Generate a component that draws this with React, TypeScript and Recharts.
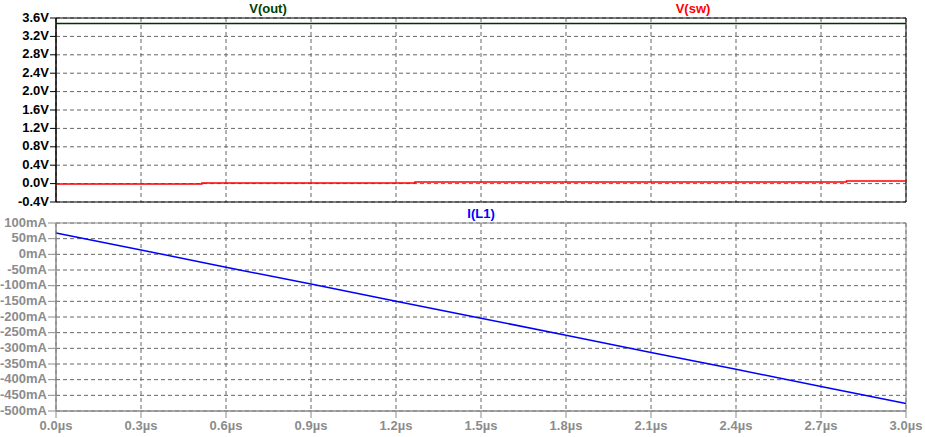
import { LineChart, Line, XAxis, YAxis, CartesianGrid, ReferenceArea } from "recharts";

// time axis (µs) and the sampled traces
const timeUs = [0, 0.3, 0.6, 0.9, 1.2, 1.5, 1.8, 2.1, 2.4, 2.7, 3.0];
const vOut = [3.48, 3.48, 3.48, 3.48, 3.48, 3.48, 3.48, 3.48, 3.48, 3.48, 3.48];
const iL1 = [68, 14, -41, -95, -150, -204, -258, -313, -367, -422, -476];

// V(sw) only moves in tiny steps
const swTimes = [0, 0.515, 1.267, 2.79, 3.0];
const vSw = [-0.006, 0.015, 0.037, 0.059, 0.059];

const voltTicks = [-0.4, 0, 0.4, 0.8, 1.2, 1.6, 2.0, 2.4, 2.8, 3.2, 3.6];
const currentTicks = [100, 50, 0, -50, -100, -150, -200, -250, -300, -350, -400, -450, -500];

const FONT = "'Liberation Sans', Arial, sans-serif";
const GRAY = "#8c8c8c";
const GRID = "#666666";

const outData = timeUs.map((t, i) => ({ t, v: vOut[i] }));
const swData = swTimes.map((t, i) => ({ t, v: vSw[i] }));
const iData = timeUs.map((t, i) => ({ t, i: iL1[i] }));

const title = (text: string, color: string, left: number, top: number) => (
  <div
    style={{
      position: "absolute",
      left,
      top,
      transform: "translateX(-50%)",
      color,
      fontFamily: FONT,
      fontWeight: "bold",
      fontSize: 13,
      whiteSpace: "nowrap",
    }}
  >
    {text}
  </div>
);

const App = () => {
  return (
    <div
      style={{
        position: "absolute",
        left: 0,
        top: 0,
        width: 925,
        height: 437,
        background: "#fff",
        fontFamily: FONT,
      }}
    >
      {/* top pane: voltages */}
      <div style={{ position: "absolute", left: 0, top: 0 }}>
        <LineChart width={925} height={210} margin={{ top: 18, right: 19, bottom: 8, left: 0 }}>
          <CartesianGrid stroke={GRID} strokeDasharray="4 3" />
          <XAxis
            dataKey="t"
            type="number"
            domain={[0, 3]}
            ticks={timeUs}
            hide
          />
          <YAxis
            type="number"
            domain={[-0.4, 3.6]}
            ticks={voltTicks}
            width={56}
            interval={0}
            axisLine={{ stroke: "#000" }}
            tickLine={{ stroke: "#000" }}
            tickSize={6}
            tickMargin={1}
            tick={{ fill: "#000", fontSize: 13, fontWeight: "bold", fontFamily: FONT, dy: -1 }}
            tickFormatter={(v: number) => `${v.toFixed(1)}V`}
          />
          <ReferenceArea x1={0} x2={3} y1={-0.4} y2={3.6} fill="none" stroke="#000" ifOverflow="visible" />
          <Line
            data={outData}
            dataKey="v"
            stroke="#003300"
            strokeWidth={1.5}
            dot={false}
            isAnimationActive={false}
          />
          <Line
            data={swData}
            dataKey="v"
            type="stepAfter"
            stroke="#ff0000"
            strokeWidth={1.5}
            dot={false}
            isAnimationActive={false}
          />
        </LineChart>
      </div>

      {/* bottom pane: inductor current */}
      <div style={{ position: "absolute", left: 0, top: 210 }}>
        <LineChart width={925} height={227} data={iData} margin={{ top: 13, right: 19, bottom: 0, left: 0 }}>
          <CartesianGrid stroke={GRID} strokeDasharray="4 3" />
          <XAxis
            dataKey="t"
            type="number"
            domain={[0, 3]}
            ticks={timeUs}
            interval={0}
            height={26}
            axisLine={{ stroke: GRAY }}
            tickLine={{ stroke: GRAY }}
            tickSize={7}
            tickMargin={3}
            tick={{ fill: GRAY, fontSize: 13, fontWeight: "bold", fontFamily: FONT }}
            tickFormatter={(v: number) => `${v.toFixed(1)}µs`}
          />
          <YAxis
            type="number"
            domain={[-500, 100]}
            ticks={currentTicks}
            width={56}
            interval={0}
            axisLine={{ stroke: GRAY }}
            tickLine={{ stroke: GRAY }}
            tickSize={8}
            tickMargin={1}
            tick={{ fill: GRAY, fontSize: 13, fontWeight: "bold", fontFamily: FONT, dy: -1 }}
            tickFormatter={(v: number) => `${v}mA`}
          />
          <ReferenceArea x1={0} x2={3} y1={-500} y2={100} fill="none" stroke={GRAY} ifOverflow="visible" />
          <Line
            dataKey="i"
            stroke="#0000ff"
            strokeWidth={1.5}
            dot={false}
            isAnimationActive={false}
          />
        </LineChart>
      </div>

      {title("V(out)", "#004000", 268, 1)}
      {title("V(sw)", "#ff0000", 693, 1)}
      {title("I(L1)", "#0000ff", 481, 206)}
    </div>
  );
};

export default App;
